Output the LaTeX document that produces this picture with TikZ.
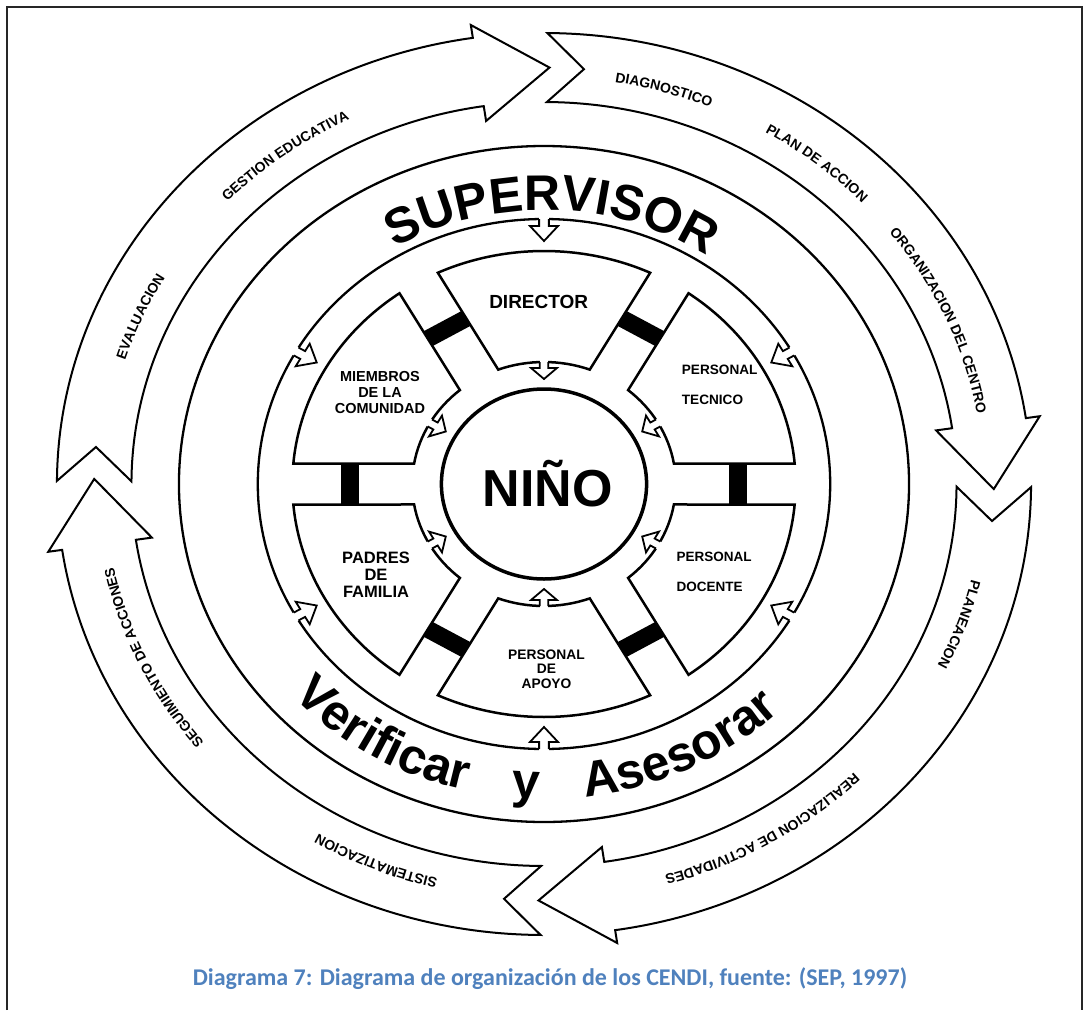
\documentclass[tikz,border=0pt]{standalone}
\usepackage{fontspec}
\setmainfont{Liberation Sans}
\newfontfamily\capfont{Carlito}
\usetikzlibrary{decorations.text}
\definecolor{capblue}{RGB}{79,129,189}
\newcommand\fsz[2]{\fontsize{#1}{#2}\selectfont\bfseries}
\newcommand\bigword{\fontsize{50}{50}\selectfont\bfseries}
\newcommand\bandword{\fontsize{14}{14}\selectfont\bfseries}

\begin{document}
\begin{tikzpicture}[x=1pt,y=1pt,
  bandarrow/.style={draw=black, line width=2pt, fill=white, line join=miter},
  ring/.style={draw=black, line width=2.3pt},
  sector/.style={draw=black, line width=2.5pt, fill=white, line join=miter},
  smallarrow/.style={draw=black, line width=1.8pt, line join=miter, line cap=square},
  bar/.style={fill=black},
  lbl/.style={inner sep=0pt, text=black},
  bandtext/.style={decorate, decoration={text along path, text align=center}},
]
\useasboundingbox (0,0) rectangle (1085,-1010);
% page frame
\draw[line width=2pt, black!85] (7,-1010) -- (7,-7) -- (1082,-7) -- (1082,-1010);

\begin{scope}[shift={(544,-484)}, xscale=1.08]
  % four curved arrows of the outer cycle
  \foreach \T in {179.6,89.6,-0.4,269.6}{
    \pgfmathsetmacro\B{\T-81.2}
    \pgfmathsetmacro\P{\T-90.3}
    \pgfmathsetmacro\N{\T-4.7}
    \draw[bandarrow] (\T:451) arc[start angle=\T, end angle=\B, radius=451]
      -- (\B:464) -- (\P:416.5) -- (\B:367) -- (\B:382)
      arc[start angle=\B, end angle=\T, radius=382] -- (\N:416.5) -- cycle;
  }
  % rings
  \draw[ring] (0,0) circle[radius=338];
  \draw[ring] (0,0) circle[radius=265];
  % six sectors
  \foreach \c in {90,30,-30,-90,-150,150}{
    \pgfmathsetmacro\ao{\c-24.95}
    \pgfmathsetmacro\bo{\c+24.95}
    \pgfmathsetmacro\ai{\c+20.33}
    \pgfmathsetmacro\bi{\c-20.33}
    \draw[sector] (\ao:233) arc[start angle=\ao, end angle=\bo, radius=233]
      -- (\ai:122) arc[start angle=\ai, end angle=\bi, radius=122] -- cycle;
  }
  % links between neighbouring sectors
  \foreach \g in {0,60,...,300}{
    \fill[bar, rotate=\g] (171,-20.5) rectangle (188,20.5);
  }
  % hollow arrows from the sectors towards the centre
  \foreach \c in {90,30,-30,-90,-150,150}{
    \begin{scope}[shift={(\c:122)}, rotate=\c]
      \fill[white] (-6.5,-4) rectangle (1.8,4);
      \draw[smallarrow] (0,4) -- (-6,4) -- (-6,12) -- (-17,0) -- (-6,-12) -- (-6,-4) -- (0,-4);
    \end{scope}
  }
  % hollow arrows from the supervisor ring towards the sectors
  \foreach \c in {90,30,-30,-90,-150,150}{
    \begin{scope}[shift={(\c:265)}, rotate=\c]
      \fill[white] (-7.5,-4.5) rectangle (2,4.5);
      \draw[smallarrow] (0,4.5) -- (-7,4.5) -- (-7,13) -- (-22,0) -- (-7,-13) -- (-7,-4.5) -- (0,-4.5);
    \end{scope}
  }
  % centre circle
  \draw[line width=3.5pt] (0,0) circle[radius=95];

  % ring captions
  \path[decorate, decoration={text along path, text align={fit to path},
      text={|\bigword|SUPERVISOR}}]
    (120.4:274) arc[start angle=120.4, end angle=57, radius=274];
  \path[decorate, decoration={text along path, text align={fit to path stretching spaces},
      text={|\bigword|Verificar y Asesorar}}]
    (-137.7:315) arc[start angle=-137.7, end angle=-46, radius=315];

  % words on the outer arrows (each arc is centred on its word)
  \path[bandtext, decoration={text={|\bandword|EVALUACION}}]
    (168:407) arc[start angle=168, end angle=144, radius=407];
  \path[bandtext, decoration={text={|\bandword|GESTION EDUCATIVA}}]
    (142:407) arc[start angle=142, end angle=110.5, radius=407];
  \path[bandtext, decoration={text={|\bandword|DIAGNOSTICO}}]
    (86.7:407) arc[start angle=86.7, end angle=61.7, radius=407];
  \path[bandtext, decoration={text={|\bandword|PLAN DE ACCION}}]
    (65.7:407) arc[start angle=65.7, end angle=37.6, radius=407];
  \path[bandtext, decoration={text={|\bandword|ORGANIZACION DEL CENTRO}}]
    (42:407) arc[start angle=42, end angle=6, radius=407];
  \path[bandtext, decoration={text={|\bandword|PLANEACION}}]
    (-8:407) arc[start angle=-8, end angle=-32, radius=407];
  \path[bandtext, decoration={text={|\bandword|REALIZACION DE ACTIVIDADES}}]
    (-40:407) arc[start angle=-40, end angle=-79, radius=407];
  \path[bandtext, decoration={text={|\bandword|SISTEMATIZACION}}]
    (-98:407) arc[start angle=-98, end angle=-127, radius=407];
  \path[bandtext, decoration={text={|\bandword|SEGUIMIENTO DE ACCIONES}}]
    (-136:407) arc[start angle=-136, end angle=-173, radius=407];
\end{scope}

% labels
\node[lbl, font=\fsz{52}{52}, anchor=base] (nino) at (547.5,-506.7) {NIÑO};
\node[lbl, font=\fsz{19}{19}] (director) at (538.7,-301.5) {DIRECTOR};
\node[lbl, font=\fsz{14.5}{15.8}, align=center] (miembros) at (380,-392.5) {MIEMBROS\\DE LA\\COMUNIDAD};
\node[lbl, font=\fsz{13.6}{30}, align=left, anchor=west] (tecnico) at (681.7,-385) {PERSONAL\\TECNICO};
\node[lbl, font=\fsz{13.5}{30.5}, align=left, anchor=west] (docente) at (676.5,-572) {PERSONAL\\DOCENTE};
\node[lbl, font=\fsz{16.5}{17}, align=center] (padres) at (376,-575) {PADRES\\DE\\FAMILIA};
\node[lbl, font=\fsz{13.8}{14.5}, align=center] (apoyo) at (546.5,-669) {PERSONAL\\DE\\APOYO};

% caption
\node[inner sep=0pt, font=\capfont\bfseries\fontsize{24}{28}\selectfont, text=capblue, anchor=base] (caption)
  at (550,-985) {Diagrama 7: Diagrama de organización de los CENDI, fuente: (SEP, 1997)};
\end{tikzpicture}
\end{document}
